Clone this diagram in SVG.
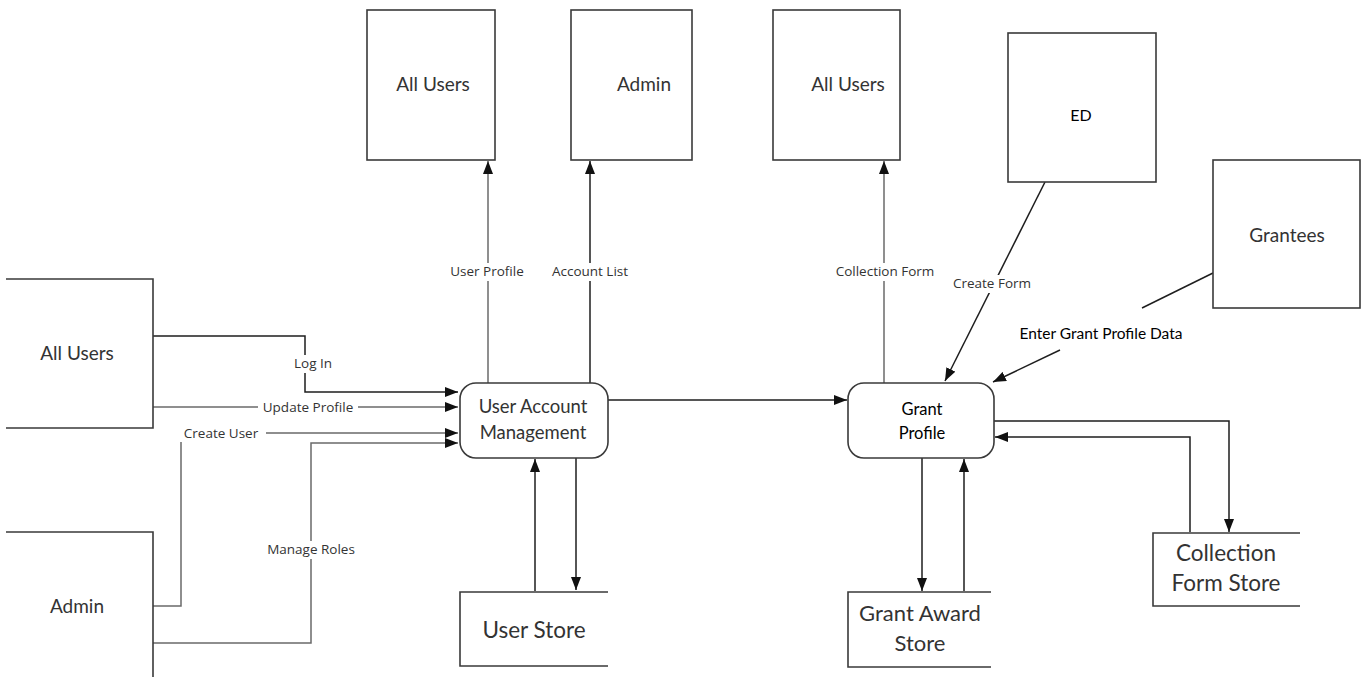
<svg xmlns="http://www.w3.org/2000/svg" width="1362" height="677" viewBox="0 0 1362 677">
<style>
.box{fill:#fff;stroke:#3a3a3a;stroke-width:1.6}
.open{fill:none;stroke:#3a3a3a;stroke-width:1.6}
.ln{fill:none;stroke:#1e1e1e;stroke-width:1.5}
.gl{fill:none;stroke:#6a6a6a;stroke-width:1.5}
.t{font-family:Lato,"Open Sans",sans-serif;fill:#333;text-anchor:middle}
.tb{font-family:Lato,"Open Sans",sans-serif;fill:#000;text-anchor:middle}
.lbl{font-family:"Open Sans","Noto Sans",sans-serif;font-size:13.5px;fill:#333;text-anchor:middle}
.bg{fill:#fff}
</style>
<defs>
<marker id="ah" markerUnits="userSpaceOnUse" markerWidth="14" markerHeight="10" refX="13" refY="5" orient="auto">
<path d="M0,0 L13,5 L0,10 z" fill="#111"/>
</marker>
</defs>
<g id="connectors">
<polyline class="ln" points="153,336 305,336 305,392 458,392" marker-end="url(#ah)"/>
<polyline class="gl" points="153,407 458,407" marker-end="url(#ah)"/>
<polyline class="gl" points="153,606 181,606 181,433 458,433" marker-end="url(#ah)"/>
<polyline class="gl" points="153,643 311,643 311,443 458,443" marker-end="url(#ah)"/>
<line class="gl" x1="488" y1="383" x2="488" y2="161" marker-end="url(#ah)"/>
<line class="ln" x1="590" y1="383" x2="590" y2="161" marker-end="url(#ah)"/>
<line class="gl" x1="884" y1="383" x2="884" y2="161" marker-end="url(#ah)"/>
<line class="ln" x1="608" y1="400" x2="847" y2="400" marker-end="url(#ah)"/>
<line class="ln" x1="535" y1="591" x2="535" y2="459" marker-end="url(#ah)"/>
<line class="ln" x1="576" y1="458" x2="576" y2="590" marker-end="url(#ah)"/>
<line class="ln" x1="922" y1="458" x2="922" y2="591" marker-end="url(#ah)"/>
<line class="ln" x1="964" y1="591" x2="964" y2="459" marker-end="url(#ah)"/>
<polyline class="ln" points="993,421 1229,421 1229,532" marker-end="url(#ah)"/>
<polyline class="ln" points="1190,532 1190,437 995,437" marker-end="url(#ah)"/>
<line class="ln" x1="1045" y1="182" x2="945" y2="381" marker-end="url(#ah)"/>
<line class="ln" x1="1213" y1="273" x2="1142" y2="308"/>
<line class="ln" x1="1060" y1="350" x2="993" y2="382" marker-end="url(#ah)"/>
<rect class="bg" x="287" y="355" width="44" height="18"/>
<text class="lbl" x="313" y="368">Log In</text>
<rect class="bg" x="258" y="399" width="100" height="17"/>
<text class="lbl" x="308" y="412">Update Profile</text>
<rect class="bg" x="178" y="425" width="88" height="17"/>
<text class="lbl" x="221" y="438">Create User</text>
<rect class="bg" x="262" y="541" width="98" height="18"/>
<text class="lbl" x="311" y="554">Manage Roles</text>
<rect class="bg" x="443" y="263" width="88" height="18"/>
<text class="lbl" x="487" y="276">User Profile</text>
<rect class="bg" x="545" y="263" width="90" height="18"/>
<text class="lbl" x="590" y="276">Account List</text>
<rect class="bg" x="829" y="263" width="112" height="18"/>
<text class="lbl" x="885" y="276">Collection Form</text>
<rect class="bg" x="947" y="275" width="90" height="18"/>
<text class="lbl" x="992" y="288">Create Form</text>
<text class="tb" x="1101" y="339" style="font-size:15.5px">Enter Grant Profile Data</text>
</g>
<g id="n-allusers-left">
<polyline class="open" points="6,279 153,279 153,428 6,428"/>
<text class="t" x="77" y="360" style="font-size:19px">All Users</text>
</g>
<g id="n-admin-left">
<polyline class="open" points="6,532 153,532 153,677"/>
<text class="t" x="77" y="613" style="font-size:19px">Admin</text>
</g>
<g id="n-allusers-top1">
<rect class="box" x="367" y="10" width="128" height="150"/>
<text class="t" x="433" y="91" style="font-size:19px">All Users</text>
</g>
<g id="n-admin-top">
<rect class="box" x="571" y="10" width="121" height="150"/>
<text class="t" x="644" y="91" style="font-size:19px">Admin</text>
</g>
<g id="n-allusers-top2">
<rect class="box" x="773" y="10" width="127" height="150"/>
<text class="t" x="848" y="91" style="font-size:19px">All Users</text>
</g>
<g id="n-ed">
<rect class="box" x="1008" y="33" width="148" height="149"/>
<text class="tb" x="1081" y="121" style="font-size:16px">ED</text>
</g>
<g id="n-grantees">
<rect class="box" x="1213" y="160" width="147" height="148"/>
<text class="t" x="1287" y="242" style="font-size:19px">Grantees</text>
</g>
<g id="n-uam">
<rect class="box" x="460" y="383" width="148" height="75" rx="16"/>
<text class="t" x="533" y="413" style="font-size:18.5px">User Account</text>
<text class="t" x="533" y="439" style="font-size:18.5px">Management</text>
</g>
<g id="n-grant-profile">
<rect class="box" x="848" y="383" width="146" height="75" rx="16"/>
<text class="tb" x="922" y="415" style="font-size:16.5px">Grant</text>
<text class="tb" x="922" y="439" style="font-size:16.5px">Profile</text>
</g>
<g id="n-user-store">
<polyline class="open" points="608,592 460,592 460,666 608,666"/>
<text class="t" x="534" y="638" style="font-size:22.5px">User Store</text>
</g>
<g id="n-grant-award-store">
<polyline class="open" points="991,592 848,592 848,667 991,667"/>
<text class="t" x="920" y="621" style="font-size:22px">Grant Award</text>
<text class="t" x="920" y="651" style="font-size:22px">Store</text>
</g>
<g id="n-collection-form-store">
<polyline class="open" points="1300,533 1153,533 1153,606 1300,606"/>
<text class="t" x="1226" y="561" style="font-size:22.5px">Collection</text>
<text class="t" x="1226" y="591" style="font-size:22.5px">Form Store</text>
</g>
</svg>
